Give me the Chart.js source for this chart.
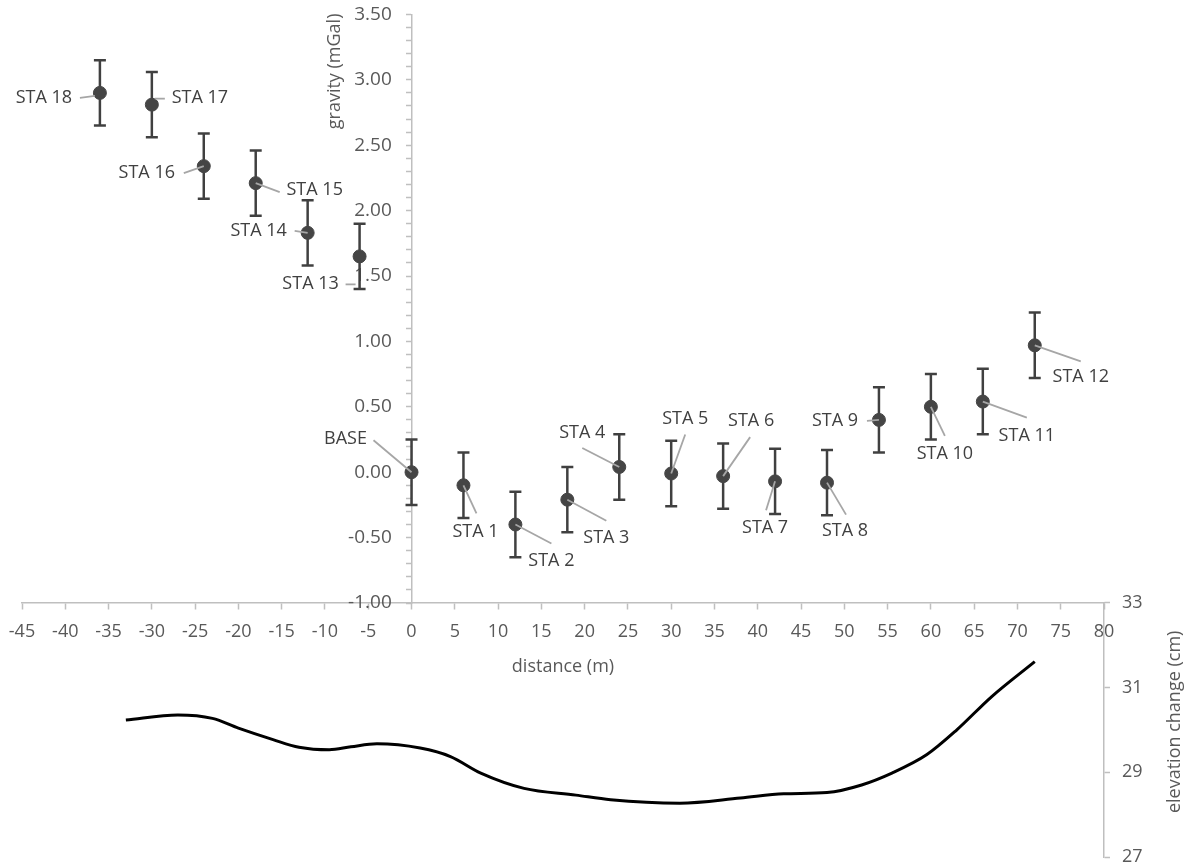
<!DOCTYPE html>
<html>
<head>
<meta charset="utf-8">
<script src="https://cdn.jsdelivr.net/npm/chart.js@4.4.1/dist/chart.umd.min.js"></script>
<style>
  html, body { margin: 0; padding: 0; background: #fff; overflow: hidden; }
  #wrap { position: relative; width: 1184px; height: 867px; }
  #wrap canvas { position: absolute; left: 0; top: 0; }
</style>
</head>
<body>
<div id="wrap">
  <canvas id="gravity-chart" width="1184" height="867"></canvas>
  <canvas id="elevation-chart" width="1184" height="880"></canvas>
</div>
<script>
// stations along the profile
const stations = ['BASE', 'STA 1', 'STA 2', 'STA 3', 'STA 4', 'STA 5', 'STA 6', 'STA 7', 'STA 8', 'STA 9',
  'STA 10', 'STA 11', 'STA 12', 'STA 13', 'STA 14', 'STA 15', 'STA 16', 'STA 17', 'STA 18'];
const distance = [0, 6, 12, 18, 24, 30, 36, 42, 48, 54, 60, 66, 72, -6, -12, -18, -24, -30, -36];
const gravity = [0.00, -0.10, -0.40, -0.21, 0.04, -0.01, -0.03, -0.07, -0.08, 0.40,
  0.50, 0.54, 0.97, 1.65, 1.83, 2.21, 2.34, 2.81, 2.90];
const gravityError = 0.25;

// elevation profile (bottom curve)
const elevDistance = [-33, -27, -23, -20, -16, -13, -9.5, -7, -4, 1, 4.5, 8, 13, 19, 23, 31, 38, 43, 48, 52, 55.5, 59.5, 63, 67, 72];
const elevation = [30.23, 30.35, 30.27, 30.04, 29.77, 29.59, 29.53, 29.60, 29.67, 29.57, 29.37, 28.98, 28.62,
  28.46, 28.35, 28.27, 28.39, 28.49, 28.52, 28.70, 28.98, 29.41, 30.00, 30.78, 31.61];

// axis ranges
const distanceRange = [-45, 80, 5];
const gravityRange = [-1, 3.5, 0.1];
const elevationRange = [27, 33, 2];

// label placement in pixels relative to each point:
// [textDx, textDy, leaderFromDx, leaderFromDy, leaderToDx, leaderToDy]
const labelLayout = [
  [-66, -33, -38, -32, 0, 0],
  [12, 47, 0, 0, 13, 28],
  [36, 36, 0, 0, 36, 19],
  [39, 38, 0, 0, 39, 21],
  [-37, -34, -37, -19, 0, 0],
  [14, -55, 14, -39, 0, 0],
  [28, -55, 27, -39, 0, 0],
  [-10, 47, 0, 0, -9, 29],
  [18, 48, 0, 0, 19, 32],
  [-44, 1, -12, 1, 0, 0],
  [14, 47, 0, 0, 14, 29],
  [44, 34, 0, 0, 44, 16],
  [46, 32, 0, 0, 46, 16],
  [-49, 27, -14, 28, -4, 28],
  [-49, -2, -13, -2, 0, 0],
  [59, 7, 0, 0, 24, 9],
  [-57, 7, -20, 7, 0, 0],
  [48, -7, 3, -6, 13, -6],
  [-56, 5, -20, 5, -5, 3]
];

const textColor = '#595959';
const axisColor = '#bfbfbf';
const markColor = '#454545';
Chart.defaults.font.family = "'Open Sans', sans-serif";

const points = distance.map((d, i) => ({ x: d, y: gravity[i] }));
const errorBars = [];
distance.forEach((d, i) => {
  errorBars.push({ x: d, y: gravity[i] - gravityError });
  errorBars.push({ x: d, y: gravity[i] + gravityError });
  errorBars.push({ x: d, y: null });
});

const stationLabels = {
  id: 'stationLabels',
  afterDatasetsDraw(chart) {
    const ctx = chart.ctx;
    const pts = chart.getDatasetMeta(0).data;
    ctx.save();
    ctx.strokeStyle = '#a6a6a6';
    ctx.lineWidth = 1.8;
    pts.forEach((p, i) => {
      const l = labelLayout[i];
      ctx.beginPath();
      ctx.moveTo(p.x + l[2], p.y + l[3]);
      ctx.lineTo(p.x + l[4], p.y + l[5]);
      ctx.stroke();
    });
    ctx.font = "18px 'Open Sans'";
    ctx.fillStyle = '#404040';
    ctx.textAlign = 'center';
    ctx.textBaseline = 'middle';
    pts.forEach((p, i) => {
      ctx.fillText(stations[i], p.x + labelLayout[i][0], p.y + labelLayout[i][1]);
    });
    // y axis title, rotated to read upward
    const ax = chart.scales.x.getPixelForValue(0) - 77;
    const ay = chart.scales.y.getPixelForValue(gravityRange[1]) + 57;
    ctx.translate(ax, ay);
    ctx.rotate(-Math.PI / 2);
    ctx.fillStyle = textColor;
    ctx.fillText('gravity (mGal)', 0, 0);
    ctx.restore();
  }
};

new Chart(document.getElementById('gravity-chart'), {
  type: 'scatter',
  data: {
    datasets: [{
      data: points,
      pointRadius: 6.5,
      pointBackgroundColor: markColor,
      pointBorderColor: markColor,
      pointBorderWidth: 1,
      showLine: false
    }, {
      data: errorBars,
      showLine: true,
      spanGaps: false,
      borderColor: '#404040',
      borderWidth: 2.5,
      pointStyle: 'line',
      pointRadius: 6,
      pointBorderWidth: 2.5,
      pointBorderColor: '#404040'
    }]
  },
  options: {
    responsive: false,
    animation: false,
    layout: { padding: { left: 22, right: 80, top: 12, bottom: 264 } },
    plugins: { legend: { display: false }, tooltip: { enabled: false } },
    scales: {
      x: {
        type: 'linear',
        position: { y: gravityRange[0] },
        min: distanceRange[0],
        max: distanceRange[1],
        ticks: { stepSize: distanceRange[2], autoSkip: false, maxRotation: 0, padding: 8, color: textColor, font: { size: 18, lineHeight: 1.7 } },
        grid: { drawOnChartArea: false, tickLength: 6, color: axisColor, tickWidth: 1.5 },
        border: { color: axisColor, width: 1.5 },
        title: { display: true, text: 'distance (m)', color: textColor, font: { size: 18 }, padding: { top: 0, bottom: 0 } }
      },
      y: {
        type: 'linear',
        position: { x: 0 },
        min: gravityRange[0],
        max: gravityRange[1],
        ticks: {
          stepSize: gravityRange[2],
          autoSkip: false,
          color: textColor,
          font: { size: 19 },
          // labels every 0.5, minor ticks every 0.1; trailing spaces keep the label clear of the axis
          callback: (v) => Math.round(v * 10) % 5 === 0 ? (Math.abs(v) < 1e-9 ? 0 : v).toFixed(2) + '    ' : ''
        },
        grid: { drawOnChartArea: false, tickLength: 5, color: axisColor, tickWidth: 1.5 },
        border: { color: axisColor, width: 1.5 }
      }
    }
  },
  plugins: [stationLabels]
});

const elevationTitle = {
  id: 'elevationTitle',
  afterDraw(chart) {
    const ctx = chart.ctx;
    const s = chart.scales.y;
    ctx.save();
    ctx.font = "18px 'Open Sans'";
    ctx.fillStyle = textColor;
    ctx.textAlign = 'center';
    ctx.textBaseline = 'middle';
    ctx.translate(s.right - 9, (s.top + s.bottom) / 2 - 8);
    ctx.rotate(-Math.PI / 2);
    ctx.fillText('elevation change (cm)', 0, 0);
    ctx.restore();
  }
};

new Chart(document.getElementById('elevation-chart'), {
  type: 'scatter',
  data: {
    datasets: [{
      data: elevDistance.map((d, i) => ({ x: d, y: elevation[i] })),
      showLine: true,
      borderColor: '#000000',
      borderWidth: 3,
      pointRadius: 0,
      cubicInterpolationMode: 'monotone'
    }]
  },
  options: {
    responsive: false,
    animation: false,
    layout: { padding: { left: 22, right: 0, top: 602.7, bottom: 23 } },
    plugins: { legend: { display: false }, tooltip: { enabled: false } },
    scales: {
      x: { type: 'linear', min: distanceRange[0], max: distanceRange[1], display: false },
      y: {
        type: 'linear',
        position: 'right',
        min: elevationRange[0],
        max: elevationRange[1],
        afterFit: (s) => { s.width = 80; },
        ticks: { stepSize: elevationRange[2], padding: 12, color: textColor, font: { size: 18 } },
        grid: { drawOnChartArea: false, tickLength: 6, color: axisColor, tickWidth: 1.5 },
        border: { color: axisColor, width: 1.5 }
      }
    }
  },
  plugins: [elevationTitle]
});
</script>
</body>
</html>
